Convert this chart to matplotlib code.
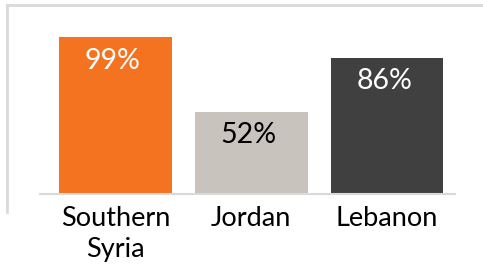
import matplotlib.pyplot as plt
from matplotlib.lines import Line2D

regions = ["Southern\nSyria", "Jordan", "Lebanon"]
shares = [99, 52, 86]
bar_colors = ["#F37321", "#C9C3BD", "#404040"]
text_colors = ["white", "black", "white"]

plt.rcParams['font.family'] = ['Lato', 'DejaVu Sans']

W, H = 483, 270
fig = plt.figure(figsize=(W / 100, H / 100), dpi=100)
# axes placed in pixel terms: baseline at y=194, line from x=40 to 455
ax = fig.add_axes([40 / W, (H - 194) / H, 415 / W, 174 / H])

x = range(len(regions))
ax.bar(x, shares, width=0.83, color=bar_colors, zorder=2)
ax.set_xlim(-0.555, 2.5)
ax.set_ylim(0, 109.7)

for i, v in enumerate(shares):
    ax.annotate(f"{v}%", (i, v), xytext=(-2, -17), textcoords="offset points",
                ha="center", va="center", fontsize=20.5, color=text_colors[i])

ax.set_xticks(list(x))
ax.set_xticklabels(regions, fontsize=19.5, linespacing=1.3)
ax.tick_params(axis="x", length=0, pad=9)
ax.set_yticks([])
for s in ["top", "right", "left"]:
    ax.spines[s].set_visible(False)
ax.spines["bottom"].set_color("#D9D9D9")
ax.spines["bottom"].set_linewidth(1.5)

# slide border pieces: top and left
fig.add_artist(Line2D([7 / W, 1], [1 - 5 / H, 1 - 5 / H], color="#D9D9D9", lw=2))
fig.add_artist(Line2D([7 / W, 7 / W], [1 - 5 / H, 1 - 212 / H], color="#D9D9D9", lw=2))

fig.savefig("out.png", dpi=100)
